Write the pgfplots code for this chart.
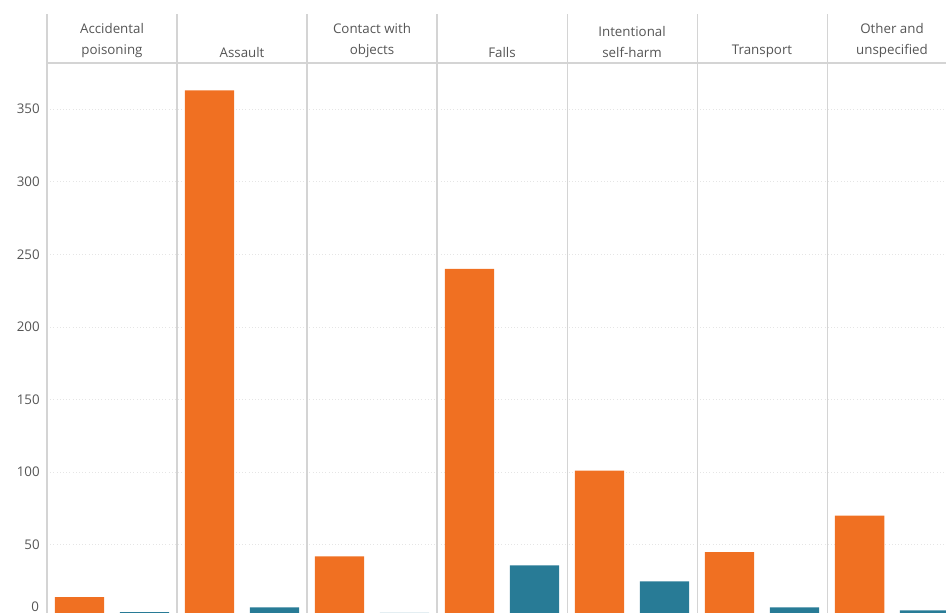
\documentclass[border=0pt]{standalone}
\usepackage{pgfplots}
\pgfplotsset{compat=1.18}
\usepackage{fontspec}
\setmainfont{Open Sans}
\definecolor{org}{HTML}{F07022}
\definecolor{tel}{HTML}{287B96}
\definecolor{sep}{HTML}{D4D4D4}
\definecolor{txt}{HTML}{555555}
\newcommand\hdr[2]{\node[font=\fontsize{10}{16}\selectfont, text=txt, align=center, anchor=south, inner sep=0pt] at ({axis cs:#1,0}|-{rel axis cs:0,1.009}) {#2};}
\newcommand\sepl[1]{\draw[sep, thick] (axis cs:#1,0) -- ({axis cs:#1,0}|-{rel axis cs:0,1.089});}
\begin{document}
\begin{tikzpicture}
\useasboundingbox (-35.25pt,0pt) rectangle (674.25pt,459.75pt);
\begin{axis}[scale only axis, width=674.25pt, height=412.5pt,
  xmin=0, xmax=6.915, ymin=3, ymax=381.8,
  ybar, bar width=0.38, bar shift=0pt,
  axis line style={draw=none}, clip=false,
  xtick=\empty, ytick={50,100,...,350},
  tick style={draw=none},
  yticklabel style={font=\fontsize{10}{12}\selectfont, text=txt, xshift=-2pt},
  /pgf/number format/assume math mode=true,
  ymajorgrids, grid style={sep!60, dotted},
]
\addplot[fill=org, draw=none] coordinates {(0.25,14) (1.25,363) (2.25,42) (3.25,240) (4.25,101) (5.25,45) (6.25,70)};
\addplot[fill=tel, draw=none] coordinates {(0.75,3.6) (1.75,6.9) (2.75,3.1) (3.75,35.8) (4.75,24.8) (5.75,6.9) (6.75,4.8)};
\draw[sep, thick] (rel axis cs:0,1) -- (rel axis cs:1,1);
\sepl{0}\sepl{1}\sepl{2}\sepl{3}\sepl{4}\sepl{5}\sepl{6}
\node[font=\fontsize{10}{12}\selectfont, text=txt, anchor=east, inner sep=0pt] at (axis cs:-0.06,7.5) {0};
\hdr{0.5}{Accidental\\poisoning}
\hdr{1.5}{Assault}
\hdr{2.5}{Contact with\\objects}
\hdr{3.5}{Falls}
\hdr{4.5}{Intentional\\self-harm}
\hdr{5.5}{Transport}
\hdr{6.5}{Other and\\unspecified}
\end{axis}
\end{tikzpicture}
\end{document}
